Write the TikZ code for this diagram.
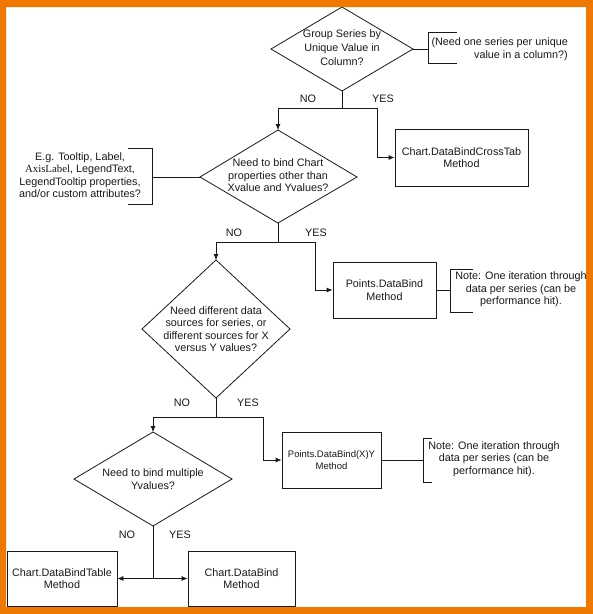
\documentclass[tikz,border=0pt]{standalone}
\usepackage{fontspec}
\setmainfont{Liberation Sans}
\newfontfamily\serifaxis{Liberation Serif}
\usetikzlibrary{arrows.meta}
\definecolor{frameorange}{RGB}{238,120,0}
\definecolor{inkc}{RGB}{25,25,25}
\begin{document}
\begin{tikzpicture}[x=1pt,y=-1pt,
  ln/.style={draw=inkc,line width=0.8pt},
  arr/.style={ln,-{Latex[length=6pt,width=5pt]}},
  txt/.style={align=center,font=\fontsize{10.8}{12.5}\selectfont,inner sep=0pt,text=inkc},
  box/.style={ln,txt,fill=white}
]
\useasboundingbox (0,0) rectangle (593,614);
\fill[white] (0,0) rectangle (593,614);

% ---------- diamond 1
\coordinate (q1t) at (342,7);
\coordinate (q1r) at (413,49);
\coordinate (q1b) at (342,91);
\coordinate (q1l) at (271,49);
\draw[ln] (q1t) -- (q1r) -- (q1b) -- (q1l) -- cycle;
\node[txt,font=\fontsize{10.8}{14}\selectfont] (q1) at (342,48) {Group Series by\\Unique Value in\\Column?};

% note 1
\coordinate (n1m) at (428,49);
\coordinate (n1t) at (428,32);
\coordinate (n1b) at (428,63);
\draw[ln] (q1r) -- (n1m);
\draw[ln] ([xshift=29pt]n1t) -- (n1t) -- (n1b) -- ([xshift=29pt]n1b);
\node[txt,align=right,anchor=east] (n1) at (568,49) {(Need one series per unique\\value in a column?)};

% box 1
\node[box,minimum width=133pt,minimum height=57pt] (b1) at (461.5,157.5) {Chart.DataBindCrossTab\\Method};

% ---------- diamond 2
\coordinate (q2t) at (278,130);
\coordinate (q2r) at (357,177);
\coordinate (q2b) at (278,223);
\coordinate (q2l) at (200,177);
\draw[ln] (q2t) -- (q2r) -- (q2b) -- (q2l) -- cycle;
\node[txt] (q2) at (278,175.5) {Need to bind Chart\\properties other than\\Xvalue and Yvalues?};

% left note 2
\coordinate (n2m) at (152,177);
\coordinate (n2t) at (152,148);
\coordinate (n2b) at (152,204);
\draw[ln] (q2l) -- (n2m);
\draw[ln] ([xshift=-24pt]n2t) -- (n2t) -- (n2b) -- ([xshift=-24pt]n2b);
\node[txt] (n2) at (80,175) {E.g. Tooltip, Label,\\{\serifaxis AxisLabel}, LegendText,\\LegendTooltip properties,\\and/or custom attributes?};

% connectors from diamond 1
\coordinate (j1) at (342,108);
\coordinate (c1) at (377,157.5);
\draw[ln] (q1b) -- (j1);
\draw[arr] (j1) -| (q2t);
\draw[arr] (j1) -| (c1) -- (b1.west);
\node[txt] (no1) at (308,99) {NO};
\node[txt] (yes1) at (383,99) {YES};

% box 2
\node[box,minimum width=103pt,minimum height=56pt] (b2) at (384.5,290) {Points.DataBind\\Method};
\coordinate (n3m) at (450,290);
\coordinate (n3t) at (450,269);
\coordinate (n3b) at (450,312);
\draw[ln] (b2.east) -- (n3m);
\draw[ln] ([xshift=23pt]n3t) -- (n3t) -- (n3b) -- ([xshift=23pt]n3b);
\node[txt] (n3) at (521,289.5) {Note: One iteration through\\data per series (can be\\performance hit).};

% ---------- diamond 3
\coordinate (q3t) at (216,260);
\coordinate (q3r) at (290,329);
\coordinate (q3b) at (216,398);
\coordinate (q3l) at (142,329);
\draw[ln] (q3t) -- (q3r) -- (q3b) -- (q3l) -- cycle;
\node[txt] (q3) at (216,329) {Need different data\\sources for series, or\\different sources for X\\versus Y values?};

% connectors from diamond 2
\coordinate (j2) at (278,242);
\coordinate (c2) at (315,290);
\draw[ln] (q2b) -- (j2);
\draw[arr] (j2) -| (q3t);
\draw[arr] (j2) -| (c2) -- (b2.west);
\node[txt] (no2) at (234,233) {NO};
\node[txt] (yes2) at (316,233) {YES};

% box 3
\node[box,minimum width=99pt,minimum height=56pt,font=\fontsize{9.5}{12}\selectfont] (b3) at (331.5,460) {Points.DataBind(X)Y\\Method};
\coordinate (n4m) at (423,460);
\coordinate (n4t) at (423,438);
\coordinate (n4b) at (423,482);
\draw[ln] (b3.east) -- (n4m);
\draw[ln] ([xshift=9pt]n4t) -- (n4t) -- (n4b) -- ([xshift=9pt]n4b);
\node[txt] (n4) at (494,459) {Note: One iteration through\\data per series (can be\\performance hit).};

% ---------- diamond 4
\coordinate (q4t) at (153,432);
\coordinate (q4r) at (232,479);
\coordinate (q4b) at (153,526);
\coordinate (q4l) at (74,479);
\draw[ln] (q4t) -- (q4r) -- (q4b) -- (q4l) -- cycle;
\node[txt] (q4) at (153,479) {Need to bind multiple\\Yvalues?};

% connectors from diamond 3
\coordinate (j3) at (216,417);
\coordinate (c3) at (263,460);
\draw[ln] (q3b) -- (j3);
\draw[arr] (j3) -| (q4t);
\draw[arr] (j3) -| (c3) -- (b3.west);
\node[txt] (no3) at (182,403) {NO};
\node[txt] (yes3) at (248,403) {YES};

% bottom boxes
\node[box,minimum width=110pt,minimum height=55pt] (b4) at (62,578.5) {Chart.DataBindTable\\Method};
\node[box,minimum width=107pt,minimum height=55pt] (b5) at (241.5,578.5) {Chart.DataBind\\Method};
\coordinate (j4) at (153,578.5);
\draw[ln] (q4b) -- (j4);
\draw[arr] (j4) -- (b4.east);
\draw[arr] (j4) -- (b5.west);
\node[txt] (no4) at (127,535) {NO};
\node[txt] (yes4) at (180,535) {YES};

% orange frame
\fill[frameorange,even odd rule] (0,0) rectangle (593,614) (6,7) rectangle (586,607);
\end{tikzpicture}
\end{document}
